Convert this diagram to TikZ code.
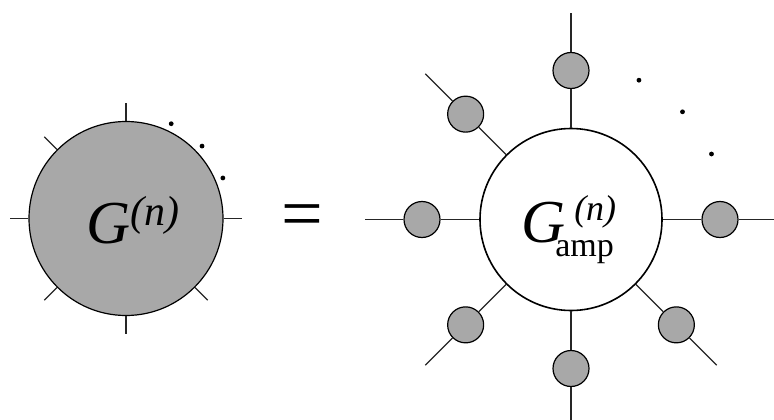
\documentclass[tikz,border=0pt]{standalone}
\usepackage{fontspec}
\setmainfont{Liberation Serif}
\definecolor{fillgray}{RGB}{168,168,168}
\begin{document}
\begin{tikzpicture}[x=1pt,y=-1pt,
  leg/.style={line width=1.1pt, black!85},
  bigL/.style={circle, draw, line width=1.2pt, fill=fillgray, minimum size=194pt, inner sep=0pt},
  bigR/.style={circle, draw, line width=1.6pt, fill=white, minimum size=182pt, inner sep=0pt},
  blob/.style={circle, draw, line width=1.2pt, fill=fillgray, minimum size=36pt, inner sep=0pt},
  lab/.style={anchor=base west, inner sep=0pt}]
\useasboundingbox (0,0) rectangle (774,420);
\clip (0,0) rectangle (774,420);
% left side
\node[bigL] (L) at (126,218.5) {};
\foreach \a in {0,90,135,180,225,270,315}
  \draw[leg] (L.\a) -- ++(\a:18pt);
\foreach \a in {64.5,43.6,22.7}
  \fill (L) ++(\a:105pt) circle (2.4pt);
\node[lab] (Lt) at (86,243) {\fontsize{61}{61}\selectfont\itshape G\raisebox{18pt}{\fontsize{42}{42}\selectfont (n)}};
% equals
\node[anchor=center, inner sep=0pt] (eq) at (302.5,221.5) {\fontsize{74}{74}\selectfont =};
% right side
\node[bigR] (R) at (571,219.5) {};
\foreach \a in {0,90,135,180,225,270,315} {
  \path (R) ++(\a:149pt) node[blob] (s\a) {};
  \path (R) ++(\a:206pt) coordinate (e\a);
  \draw[leg] (R.\a) -- (s\a);
  \draw[leg] (s\a) -- (e\a);
}
\foreach \a in {64,44,25}
  \fill (R) ++(\a:155pt) circle (2.4pt);
\node[lab] (Rg) at (521,242) {\fontsize{61}{61}\selectfont\itshape G\rlap{\hspace{9pt}\raisebox{22pt}{\fontsize{36}{36}\selectfont (n)}}\hspace{-10pt}\raisebox{-14pt}{\fontsize{34}{34}\selectfont\upshape amp}};
\end{tikzpicture}
\end{document}
